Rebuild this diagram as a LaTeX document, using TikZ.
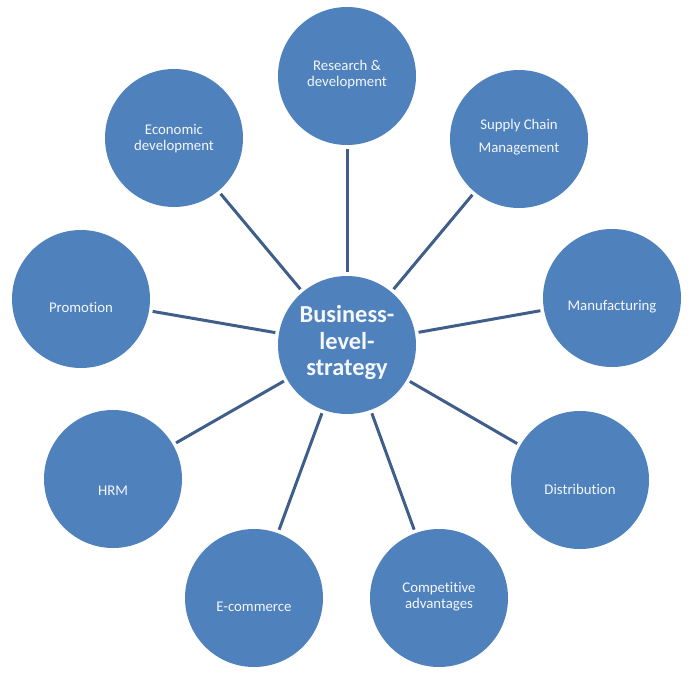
\documentclass[tikz,border=0pt]{standalone}
\usepackage{fontspec}
\setmainfont[Ligatures=NoCommon]{Carlito}
\definecolor{bubblue}{HTML}{4F81BD}
\definecolor{linkblue}{HTML}{3F5F8A}
\definecolor{labwhite}{HTML}{F4F7FC}
\begin{document}
\begin{tikzpicture}[x=1pt,y=-1pt,
  bub/.style={circle, fill=bubblue, draw=none, minimum size=138pt, inner sep=0pt},
  lab/.style={text=labwhite, font=\fontsize{14.8}{15.5}\selectfont, align=center, inner sep=0pt},
  hub/.style={text=labwhite, font=\fontsize{24.4}{26.5}\selectfont\bfseries, align=center, inner sep=0pt},
  conn/.style={draw=linkblue, line width=3pt, shorten <=3.5pt, shorten >=3.5pt}]
\useasboundingbox (0,0) rectangle (692,677);

\node[bub] (core) at (347,345) {};
\node[hub, yshift=2pt] (coret) at (core) {Business-\\level-\\strategy};

\node[bub] (rd) at (347,76) {};
\node[lab, yshift=1.5pt] (rdt) at (rd) {Research \&\\development};

\node[bub] (scm) at (519,139) {};
\node[lab, yshift=1.5pt, font=\fontsize{14.8}{23}\selectfont] (scmt) at (scm) {Supply Chain\\Management};

\node[bub] (manu) at (612,298) {};
\node[lab, yshift=-9pt] (manut) at (manu) {Manufacturing};

\node[bub] (dist) at (580,480) {};
\node[lab, yshift=-9pt] (distt) at (dist) {Distribution};

\node[bub] (comp) at (439,598) {};
\node[lab, yshift=1.5pt] (compt) at (comp) {Competitive\\advantages};

\node[bub] (ecom) at (254,598) {};
\node[lab, yshift=-9pt] (ecomt) at (ecom) {E-commerce};

\node[bub] (hrm) at (113,479) {};
\node[lab, yshift=-11.5pt] (hrmt) at (hrm) {HRM};

\node[bub] (promo) at (81,299) {};
\node[lab, yshift=-8.5pt] (promot) at (promo) {Promotion};

\node[bub] (econ) at (174,138) {};
\node[lab, yshift=-0.5pt] (econt) at (econ) {Economic\\development};

\foreach \n in {rd,scm,manu,dist,comp,ecom,hrm,promo,econ}
  \draw[conn] (core) -- (\n);
\end{tikzpicture}
\end{document}
